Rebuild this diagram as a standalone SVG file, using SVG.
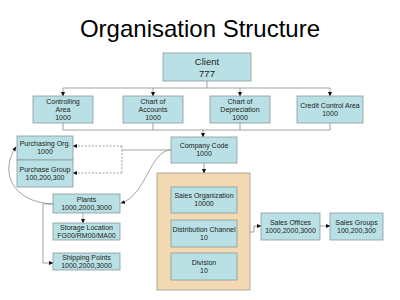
<svg xmlns="http://www.w3.org/2000/svg" width="400" height="300" viewBox="0 0 400 300">
<style>
.box{fill:#b9e0e4;stroke:#8a9a9c;stroke-width:0.8}
.tan{fill:#f3d9b1;stroke:#a09a90;stroke-width:0.8}
text{font-family:"Liberation Sans",Arial,sans-serif;font-size:7px;fill:#222;text-anchor:middle}
.title{font-size:24px;fill:#000}
.big{font-size:9.5px}
.ln{fill:none;stroke:#8a8a8a;stroke-width:0.8}
.arr{marker-end:url(#ah)}
.dash{stroke-dasharray:2,1.5}
</style>
<defs>
<marker id="ah" markerWidth="5" markerHeight="5" refX="4" refY="2.5" orient="auto" markerUnits="userSpaceOnUse">
<path d="M0,0.5 L4.5,2.5 L0,4.5 Z" fill="#111"/>
</marker>
</defs>
<rect width="400" height="300" fill="#fff"/>
<text class="title" x="200" y="37">Organisation Structure</text>

<g id="connectors">
<path class="ln" d="M207,81 V88 M63,88 H330"/>
<path class="ln arr" d="M63,88 V96"/>
<path class="ln arr" d="M153,88 V96"/>
<path class="ln arr" d="M240,88 V96"/>
<path class="ln arr" d="M330,88 V96"/>
<path class="ln" d="M63,123 V130 M153,123 V130 M240,123 V130 M330,123 V130 M63,130 H330"/>
<path class="ln arr" d="M203,130 V137"/>
<path class="ln arr" d="M204,163 V173"/>
<path class="ln" d="M171,150 H122"/>
<path class="ln dash" d="M122,146 V173"/>
<path class="ln dash arr" d="M122,146 H73"/>
<path class="ln dash arr" d="M122,173 H73"/>
<path class="ln arr" d="M171,150 C150,150 146,196 121,203"/>
<path class="ln arr" d="M53,204 C10,202 0,170 16,147"/>
<path class="ln arr" d="M83,213 V223"/>
<path class="ln" d="M53,204 H43"/>
<path class="ln arr" d="M43,204 V263 H53"/>
<path class="ln arr" d="M250,232 H254 V226 H261"/>
<path class="ln arr" d="M320,226 H330"/>
</g>

<g id="client"><rect class="box" x="163" y="53" width="88" height="28"/><text class="big" x="207" y="65">Client</text><text class="big" x="207" y="77">777</text></g>
<g id="controlling-area"><rect class="box" x="33" y="96" width="60" height="27"/><text x="63" y="104">Controlling</text><text x="63" y="112">Area</text><text x="63" y="120">1000</text></g>
<g id="chart-of-accounts"><rect class="box" x="123" y="96" width="60" height="27"/><text x="153" y="104">Chart of</text><text x="153" y="112">Accounts</text><text x="153" y="120">1000</text></g>
<g id="chart-of-depreciation"><rect class="box" x="210" y="96" width="60" height="27"/><text x="240" y="104">Chart of</text><text x="240" y="112">Depreciation</text><text x="240" y="120">1000</text></g>
<g id="credit-control-area"><rect class="box" x="297" y="96" width="66" height="27"/><text x="330" y="108">Credit Control Area</text><text x="330" y="116">1000</text></g>
<g id="company-code"><rect class="box" x="171" y="137" width="66" height="26"/><text x="204" y="148">Company Code</text><text x="204" y="156">1000</text></g>
<g id="purchasing-org"><rect class="box" x="17" y="136" width="56" height="24"/><text x="45" y="146">Purchasing Org.</text><text x="45" y="154">1000</text></g>
<g id="purchase-group"><rect class="box" x="17" y="160" width="56" height="27"/><text x="45" y="172">Purchase Group</text><text x="45" y="180">100,200,300</text></g>
<g id="plants"><rect class="box" x="53" y="194" width="67" height="19"/><text x="86.5" y="202">Plants</text><text x="86.5" y="210">1000,2000,3000</text></g>
<g id="storage-location"><rect class="box" x="53" y="223" width="67" height="17"/><text x="86.5" y="230">Storage Location</text><text x="86.5" y="237.5">FG00/RM00/MA00</text></g>
<g id="shipping-points"><rect class="box" x="53" y="253" width="67" height="17"/><text x="86.5" y="260">Shipping Points</text><text x="86.5" y="267.5">1000,2000,3000</text></g>
<g id="sales-area"><rect class="tan" x="157" y="173" width="93" height="117"/></g>
<g id="sales-organization"><rect class="box" x="171" y="187" width="66" height="26"/><text x="204" y="198">Sales Organization</text><text x="204" y="206">10000</text></g>
<g id="distribution-channel"><rect class="box" x="171" y="220" width="66" height="27"/><text x="204" y="232">Distribution Channel</text><text x="204" y="240">10</text></g>
<g id="division"><rect class="box" x="171" y="253" width="66" height="27"/><text x="204" y="265">Division</text><text x="204" y="273">10</text></g>
<g id="sales-offices"><rect class="box" x="261" y="213" width="59" height="27"/><text x="290.5" y="225">Sales Offices</text><text x="290.5" y="233">1000,2000,3000</text></g>
<g id="sales-groups"><rect class="box" x="330" y="213" width="53" height="27"/><text x="356.5" y="225">Sales Groups</text><text x="356.5" y="233">100,200,300</text></g>
</svg>
